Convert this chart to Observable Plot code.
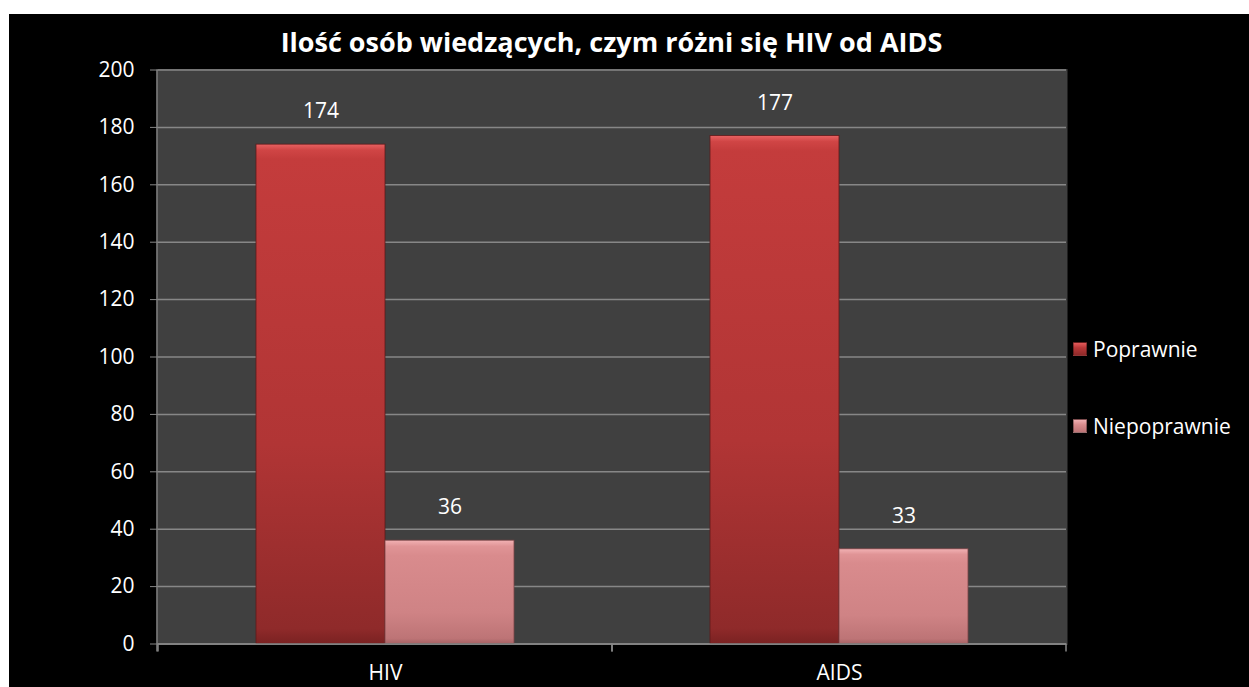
<!DOCTYPE html>
<html>
<head>
<meta charset="utf-8">
<script src="https://cdn.jsdelivr.net/npm/d3@7"></script>
<script src="https://cdn.jsdelivr.net/npm/@observablehq/plot@0.6"></script>
<style>
  html, body { margin: 0; padding: 0; background: #ffffff; width: 1249px; height: 687px; overflow: hidden; }
  #chart { position: absolute; left: 9px; top: 14px; width: 1240px; height: 673px; background: #000; overflow: hidden; font-family: "Open Sans", sans-serif; color: #fff; }
  #title { position: absolute; left: 0; top: 0; width: 1240px; height: 34px; z-index: 2; }
  #title span { position: absolute; left: 602.5px; transform: translateX(-50%); top: 13px; font-weight: 700; font-size: 27px; white-space: nowrap; line-height: 30px; }
  #plot { position: absolute; left: 0; top: 34px; }
  .leg { position: absolute; left: 1064px; font-size: 21px; line-height: 26px; display: flex; align-items: center; white-space: nowrap; z-index: 3; }
  .leg i { display: inline-block; width: 14px; height: 14px; margin-right: 6px; box-sizing: border-box; border: 1px solid rgba(0,0,0,0.35); }
</style>
</head>
<body>
<div id="chart">
  <div id="title"><span></span></div>
  <div id="plot"></div>
</div>
<script>
// ---- data ----
const titleText = "Ilość osób wiedzących, czym różni się HIV od AIDS";
const categories = ["HIV", "AIDS"];
const series = ["Poprawnie", "Niepoprawnie"];
const poprawnie = [174, 177];
const niepoprawnie = [36, 33];
const yTicks = [0, 20, 40, 60, 80, 100, 120, 140, 160, 180, 200];

const seriesValues = {Poprawnie: poprawnie, Niepoprawnie: niepoprawnie};
const rows = [];
categories.forEach((c, i) => series.forEach(s => rows.push({cat: c, series: s, value: seriesValues[s][i]})));

document.querySelector("#title span").textContent = titleText;

const gridColor = "#878787";
const H = 639, MT = 21.5, MB = 43.5;

const plot = Plot.plot({
  width: 1240,
  height: H,
  marginLeft: 148,
  marginRight: 183,
  marginTop: MT,
  marginBottom: MB,
  style: {background: "transparent", color: "#fff", fontFamily: "Open Sans, sans-serif", fontSize: "21px"},
  fx: {domain: categories, padding: 0, label: null, axis: null},
  x: {domain: series, paddingInner: 0, paddingOuter: 0.754, axis: null},
  y: {domain: [0, 200], axis: null},
  marks: [
    Plot.frame({fill: "#404040", stroke: "#404040", strokeWidth: 2}),
    Plot.gridY(yTicks, {stroke: gridColor, strokeOpacity: 1, strokeWidth: 1.5}),
    Plot.barY(rows.filter(d => d.series === "Poprawnie"), {fx: "cat", x: "series", y: "value", fill: "url(#gradP)", stroke: "#5e1a1a", strokeWidth: 0.8}),
    Plot.barY(rows.filter(d => d.series === "Niepoprawnie"), {fx: "cat", x: "series", y: "value", fill: "url(#gradN)", stroke: "#7a4446", strokeWidth: 0.8}),
    Plot.ruleY([0], {stroke: gridColor, strokeWidth: 1.5}),
    Plot.text(rows, {fx: "cat", x: "series", y: "value", text: d => String(d.value), dy: -33, fill: "#fff", fontSize: 21}),
    Plot.axisY(yTicks, {anchor: "left", tickSize: 8, tickPadding: 16, stroke: gridColor, fill: "#fff", fontSize: 21, label: null}),
    Plot.axisFx({anchor: "bottom", tickSize: 0, tickPadding: 21, fill: "#fff", fontSize: 21, label: null}),
    // category boundary ticks, drawn per facet
    (index, scales, values, dim) => {
      const g = d3.create("svg:g").attr("stroke", gridColor).attr("stroke-width", 1.5);
      const x0 = dim.marginLeft, x1 = dim.width - dim.marginRight;
      const yb = dim.height - dim.marginBottom;
      for (const xx of [x0, x1]) g.append("line").attr("x1", xx).attr("x2", xx).attr("y1", yb).attr("y2", yb + 8);
      return g.node();
    }
  ]
});

// gradients
const defs = d3.select(plot).insert("defs", ":first-child");
function grad(id, stops) {
  const lg = defs.append("linearGradient").attr("id", id).attr("x1", 0).attr("y1", 0).attr("x2", 0).attr("y2", 1);
  stops.forEach(([o, c]) => lg.append("stop").attr("offset", o).attr("stop-color", c));
}
grad("gradP", [[0, "#e86262"], [0.012, "#d04545"], [0.03, "#c43c3c"], [0.6, "#b13535"], [0.97, "#8f2a2a"], [1, "#7a2222"]]);
grad("gradN", [[0, "#f2b2b4"], [0.06, "#e09496"], [0.15, "#d98b8d"], [0.7, "#cf8385"], [0.95, "#bd7476"], [1, "#a86466"]]);

// left axis line
d3.select(plot).append("line")
  .attr("x1", 148).attr("x2", 148).attr("y1", MT).attr("y2", H - MB + 8)
  .attr("stroke", gridColor).attr("stroke-width", 1.5);

document.getElementById("plot").appendChild(plot);

// legend
const legendItems = [
  {name: "Poprawnie", bg: "linear-gradient(#e35a5a, #b83838 40%, #8f2a2a)", top: 322},
  {name: "Niepoprawnie", bg: "linear-gradient(#f0b0b2, #d98b8d 40%, #bd7476)", top: 399}
];
legendItems.forEach(it => {
  const d = document.createElement("div");
  d.className = "leg";
  d.style.top = it.top + "px";
  const i = document.createElement("i");
  i.style.background = it.bg;
  d.appendChild(i);
  d.appendChild(document.createTextNode(it.name));
  document.getElementById("chart").appendChild(d);
});
</script>
</body>
</html>
